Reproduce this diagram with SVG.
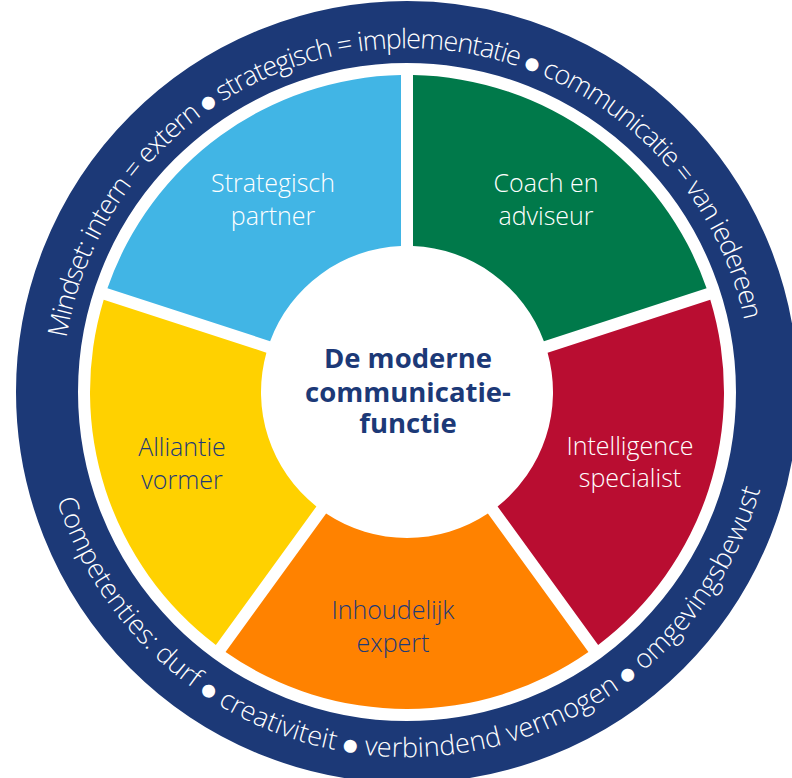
<svg xmlns="http://www.w3.org/2000/svg" width="792" height="778" viewBox="0 0 792 778">
  <defs>
    <style>
      .ring { fill: none; stroke: #1c3977; stroke-width: 62; }
      .ringtext { font-family: "Open Sans", "Segoe UI", "Liberation Sans", sans-serif; font-weight: 300; font-size: 27px; fill: #ffffff; }
      .bul { font-family: "DejaVu Sans", sans-serif; font-weight: 400; font-size: 17px; }
      .lbl { font-family: "Open Sans", "Segoe UI", "Liberation Sans", sans-serif; font-weight: 300; font-size: 25px; text-anchor: middle; }
      .light { fill: #ffffff; }
      .dark { fill: #1e3a78; }
      .title { font-family: "Open Sans", "Segoe UI", "Liberation Sans", sans-serif; font-weight: 700; font-size: 27.5px; fill: #1c3977; text-anchor: middle; }
    </style>
    <path id="topArc" d="M 62.12 401.03 A 345 345 0 0 1 751.88 382.97"/>
    <path id="botArc" d="M 40.05 397.76 A 367 367 0 0 0 773.95 386.24"/>
  </defs>

  <rect x="0" y="0" width="792" height="778" fill="#ffffff"/>

  <g id="outer-ring">
    <circle class="ring" cx="407" cy="392" r="360"/>
    <text class="ringtext"><textPath href="#topArc" startOffset="50%" text-anchor="middle" textLength="955" lengthAdjust="spacing">Mindset: intern = extern <tspan class="bul" dy="-2">●</tspan><tspan dy="2"> strategisch = implementatie </tspan><tspan class="bul" dy="-2">●</tspan><tspan dy="2"> communicatie = van iedereen</tspan></textPath></text>
    <text class="ringtext"><textPath href="#botArc" startOffset="50%" text-anchor="middle" textLength="940" lengthAdjust="spacing">Competenties: durf <tspan class="bul" dy="-2">●</tspan><tspan dy="2"> creativiteit </tspan><tspan class="bul" dy="-2">●</tspan><tspan dy="2"> verbindend vermogen </tspan><tspan class="bul" dy="-2">●</tspan><tspan dy="2"> omgevingsbewust</tspan></textPath></text>
  </g>

  <g id="coach-en-adviseur">
    <path fill="#00794a" d="M 413 75.06 A 317 317 0 0 1 706.58 288.35 L 543.89 341.21 A 146 146 0 0 0 413 246.12 Z"/>
    <text class="lbl light" x="546" y="192">Coach en</text>
    <text class="lbl light" x="546" y="225">adviseur</text>
  </g>

  <g id="intelligence-specialist">
    <path fill="#b90d31" d="M 710.28 299.77 A 317 317 0 0 1 598.15 644.88 L 497.60 506.49 A 146 146 0 0 0 547.60 352.63 Z"/>
    <text class="lbl light" x="630" y="455">Intelligence</text>
    <text class="lbl light" x="630" y="487">specialist</text>
  </g>

  <g id="inhoudelijk-expert">
    <path fill="#ff8200" d="M 588.44 651.94 A 317 317 0 0 1 225.56 651.94 L 326.11 513.55 A 146 146 0 0 0 487.89 513.55 Z"/>
    <text class="lbl dark" x="393" y="619">Inhoudelijk</text>
    <text class="lbl dark" x="393" y="652">expert</text>
  </g>

  <g id="alliantie-vormer">
    <path fill="#ffd100" d="M 215.86 644.88 A 317 317 0 0 1 103.72 299.77 L 266.41 352.63 A 146 146 0 0 0 316.40 506.49 Z"/>
    <text class="lbl dark" x="182" y="456">Alliantie</text>
    <text class="lbl dark" x="182" y="489">vormer</text>
  </g>

  <g id="strategisch-partner">
    <path fill="#41b5e5" d="M 107.43 288.35 A 317 317 0 0 1 401 75.06 L 401 246.12 A 146 146 0 0 0 270.12 341.21 Z"/>
    <text class="lbl light" x="273" y="192">Strategisch</text>
    <text class="lbl light" x="273" y="225">partner</text>
  </g>

  <g id="center">
    <text class="title" x="408" y="368">De moderne</text>
    <text class="title" x="408" y="402">communicatie-</text>
    <text class="title" x="408" y="433">functie</text>
  </g>

  <g id="connectors"/>
</svg>
